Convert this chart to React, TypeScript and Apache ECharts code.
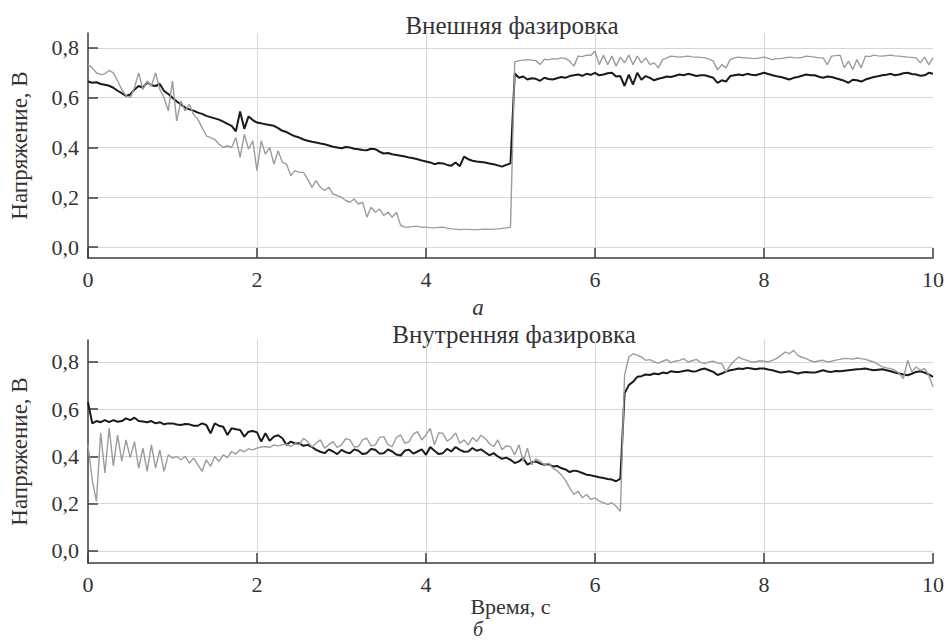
import React, { useEffect, useRef } from "react";
import * as echarts from "echarts";

// Sampling step of the recorded signals, seconds
const SAMPLE_STEP = 0.05;

const X_TICKS = [0, 2, 4, 6, 8, 10];
const Y_TICKS = [0, 0.2, 0.4, 0.6, 0.8];

const TITLE_TOP = "Внешняя фазировка";
const TITLE_BOTTOM = "Внутренняя фазировка";
const Y_NAME = "Напряжение, В";
const X_NAME = "Время, с";
const LABEL_TOP = "а";
const LABEL_BOTTOM = "б";

// (а) external phasing — black trace
const TOP_BLACK = [
  0.665, 0.660, 0.662, 0.655, 0.652, 0.648, 0.640, 0.628, 0.618, 0.607,
  0.613, 0.633, 0.647, 0.640, 0.662, 0.650, 0.647, 0.655, 0.627, 0.615,
  0.600, 0.585, 0.573, 0.560, 0.553, 0.548, 0.540, 0.535, 0.527, 0.522,
  0.517, 0.512, 0.504, 0.495, 0.487, 0.465, 0.545, 0.475, 0.525, 0.510,
  0.500, 0.497, 0.493, 0.490, 0.487, 0.478, 0.467, 0.462, 0.453, 0.445,
  0.440, 0.432, 0.427, 0.423, 0.420, 0.416, 0.413, 0.408, 0.403, 0.400,
  0.397, 0.402, 0.400, 0.395, 0.393, 0.390, 0.389, 0.395, 0.393, 0.383,
  0.376, 0.378, 0.373, 0.370, 0.367, 0.364, 0.360, 0.357, 0.353, 0.348,
  0.344, 0.340, 0.333, 0.338, 0.336, 0.330, 0.327, 0.340, 0.325, 0.363,
  0.353, 0.347, 0.344, 0.342, 0.340, 0.336, 0.333, 0.328, 0.323, 0.330,
  0.336, 0.697, 0.680, 0.685, 0.673, 0.678, 0.676, 0.668, 0.680, 0.675,
  0.673, 0.678, 0.683, 0.680, 0.687, 0.690, 0.693, 0.688, 0.696, 0.692,
  0.700, 0.690, 0.693, 0.698, 0.700, 0.685, 0.687, 0.647, 0.693, 0.653,
  0.700, 0.672, 0.687, 0.680, 0.670, 0.676, 0.680, 0.685, 0.683, 0.688,
  0.693, 0.690, 0.696, 0.692, 0.687, 0.690, 0.690, 0.685, 0.680, 0.660,
  0.670, 0.665, 0.687, 0.690, 0.693, 0.690, 0.696, 0.692, 0.690, 0.695,
  0.700, 0.695, 0.690, 0.686, 0.683, 0.678, 0.673, 0.680, 0.683, 0.688,
  0.693, 0.690, 0.690, 0.684, 0.680, 0.685, 0.683, 0.678, 0.673, 0.668,
  0.660, 0.672, 0.670, 0.665, 0.673, 0.678, 0.683, 0.686, 0.690, 0.692,
  0.696, 0.690, 0.693, 0.698, 0.700, 0.695, 0.693, 0.688, 0.690, 0.700,
  0.696,
];

// (а) external phasing — gray trace
const TOP_GRAY = [
  0.733, 0.720, 0.700, 0.693, 0.696, 0.710, 0.700, 0.667, 0.633, 0.607,
  0.600, 0.640, 0.700, 0.633, 0.667, 0.647, 0.700, 0.633, 0.600, 0.547,
  0.667, 0.507, 0.587, 0.547, 0.573, 0.533, 0.513, 0.480, 0.447, 0.440,
  0.433, 0.413, 0.400, 0.407, 0.400, 0.440, 0.360, 0.453, 0.393, 0.427,
  0.307, 0.427, 0.373, 0.400, 0.333, 0.387, 0.340, 0.333, 0.287, 0.307,
  0.300, 0.300, 0.273, 0.240, 0.267, 0.240, 0.227, 0.240, 0.213, 0.207,
  0.200, 0.187, 0.180, 0.193, 0.173, 0.180, 0.120, 0.160, 0.140, 0.153,
  0.127, 0.140, 0.120, 0.140, 0.087, 0.080, 0.080, 0.083, 0.083, 0.080,
  0.080, 0.078, 0.077, 0.079, 0.080, 0.076, 0.073, 0.072, 0.070, 0.071,
  0.071, 0.070, 0.070, 0.071, 0.072, 0.071, 0.072, 0.073, 0.075, 0.077,
  0.080, 0.744, 0.749, 0.751, 0.753, 0.751, 0.749, 0.733, 0.755, 0.752,
  0.757, 0.755, 0.760, 0.758, 0.747, 0.727, 0.767, 0.765, 0.771, 0.770,
  0.787, 0.733, 0.771, 0.733, 0.767, 0.727, 0.763, 0.740, 0.771, 0.733,
  0.767, 0.740, 0.760, 0.733, 0.740, 0.720, 0.753, 0.760, 0.767, 0.765,
  0.763, 0.765, 0.767, 0.764, 0.763, 0.762, 0.760, 0.755, 0.747, 0.712,
  0.733, 0.720, 0.753, 0.760, 0.763, 0.760, 0.760, 0.758, 0.757, 0.760,
  0.763, 0.758, 0.753, 0.757, 0.757, 0.760, 0.763, 0.761, 0.760, 0.762,
  0.767, 0.765, 0.763, 0.760, 0.760, 0.733, 0.767, 0.769, 0.771, 0.720,
  0.747, 0.713, 0.753, 0.720, 0.767, 0.765, 0.771, 0.768, 0.767, 0.769,
  0.771, 0.768, 0.767, 0.765, 0.763, 0.762, 0.760, 0.740, 0.763, 0.733,
  0.760,
];

// (б) internal phasing — black trace
const BOTTOM_BLACK = [
  0.630, 0.540, 0.550, 0.545, 0.554, 0.545, 0.554, 0.547, 0.550, 0.561,
  0.554, 0.564, 0.550, 0.548, 0.545, 0.550, 0.540, 0.545, 0.536, 0.540,
  0.540, 0.535, 0.533, 0.537, 0.536, 0.530, 0.530, 0.540, 0.533, 0.498,
  0.540, 0.530, 0.526, 0.491, 0.519, 0.515, 0.512, 0.484, 0.505, 0.508,
  0.502, 0.463, 0.498, 0.466, 0.484, 0.490, 0.477, 0.449, 0.463, 0.455,
  0.456, 0.445, 0.449, 0.440, 0.428, 0.420, 0.414, 0.430, 0.421, 0.410,
  0.428, 0.418, 0.414, 0.430, 0.424, 0.410, 0.414, 0.432, 0.428, 0.412,
  0.414, 0.430, 0.421, 0.408, 0.404, 0.425, 0.428, 0.412, 0.421, 0.430,
  0.407, 0.440, 0.424, 0.410, 0.414, 0.432, 0.421, 0.440, 0.428, 0.420,
  0.421, 0.436, 0.424, 0.430, 0.418, 0.405, 0.414, 0.400, 0.390, 0.395,
  0.386, 0.372, 0.379, 0.393, 0.365, 0.375, 0.379, 0.370, 0.365, 0.368,
  0.358, 0.360, 0.351, 0.345, 0.334, 0.340, 0.337, 0.330, 0.323, 0.320,
  0.316, 0.312, 0.309, 0.305, 0.302, 0.295, 0.306, 0.667, 0.702, 0.716,
  0.737, 0.740, 0.747, 0.745, 0.751, 0.748, 0.755, 0.752, 0.761, 0.758,
  0.758, 0.762, 0.765, 0.760, 0.761, 0.768, 0.772, 0.765, 0.758, 0.745,
  0.751, 0.760, 0.765, 0.768, 0.772, 0.770, 0.775, 0.772, 0.769, 0.772,
  0.772, 0.768, 0.765, 0.760, 0.755, 0.758, 0.761, 0.756, 0.751, 0.755,
  0.758, 0.755, 0.755, 0.760, 0.765, 0.760, 0.758, 0.762, 0.761, 0.763,
  0.765, 0.767, 0.769, 0.770, 0.772, 0.768, 0.765, 0.767, 0.769, 0.765,
  0.761, 0.755, 0.751, 0.747, 0.744, 0.750, 0.758, 0.761, 0.755, 0.747,
  0.737,
];

// (б) internal phasing — gray trace
const BOTTOM_GRAY = [
  0.450, 0.300, 0.210, 0.500, 0.330, 0.520, 0.360, 0.490, 0.380, 0.470,
  0.395, 0.463, 0.351, 0.435, 0.337, 0.449, 0.351, 0.428, 0.337, 0.407,
  0.393, 0.400, 0.386, 0.400, 0.372, 0.393, 0.365, 0.337, 0.386, 0.358,
  0.400, 0.379, 0.407, 0.395, 0.421, 0.410, 0.428, 0.420, 0.432, 0.428,
  0.435, 0.440, 0.442, 0.438, 0.449, 0.445, 0.449, 0.452, 0.442, 0.455,
  0.449, 0.477, 0.463, 0.440, 0.456, 0.470, 0.435, 0.450, 0.463, 0.438,
  0.449, 0.475, 0.470, 0.440, 0.442, 0.470, 0.477, 0.445, 0.449, 0.480,
  0.484, 0.450, 0.442, 0.480, 0.491, 0.455, 0.463, 0.495, 0.505, 0.470,
  0.491, 0.519, 0.449, 0.500, 0.498, 0.465, 0.477, 0.500, 0.456, 0.470,
  0.449, 0.480, 0.463, 0.490, 0.477, 0.455, 0.442, 0.470, 0.428, 0.445,
  0.442, 0.407, 0.449, 0.379, 0.435, 0.365, 0.390, 0.379, 0.365, 0.372,
  0.351, 0.340, 0.323, 0.300, 0.267, 0.239, 0.253, 0.225, 0.239, 0.218,
  0.225, 0.211, 0.204, 0.197, 0.204, 0.189, 0.168, 0.744, 0.821, 0.835,
  0.828, 0.821, 0.807, 0.810, 0.800, 0.795, 0.803, 0.810, 0.797, 0.803,
  0.807, 0.814, 0.800, 0.805, 0.811, 0.798, 0.793, 0.800, 0.803, 0.795,
  0.793, 0.758, 0.786, 0.805, 0.821, 0.812, 0.807, 0.800, 0.800, 0.805,
  0.803, 0.800, 0.807, 0.815, 0.828, 0.842, 0.835, 0.849, 0.828, 0.820,
  0.814, 0.805, 0.800, 0.805, 0.807, 0.800, 0.803, 0.808, 0.811, 0.815,
  0.814, 0.812, 0.817, 0.814, 0.811, 0.805, 0.800, 0.790, 0.779, 0.775,
  0.772, 0.765, 0.751, 0.730, 0.807, 0.758, 0.779, 0.765, 0.772, 0.744,
  0.695,
];

const FONT = "Liberation Serif, DejaVu Serif, serif";
const TEXT_COLOR = "#333333";
const AXIS_COLOR = "#3c3c3c";
const GRID_COLOR = "#d6d6d6";
const BLACK = "#1a1a1a";
const GRAY = "#9c9c9c";

const toPairs = (vals: number[]) =>
  vals.map((v, i) => [Number((i * SAMPLE_STEP).toFixed(2)), v]);

const fmtY = (v: number) => v.toFixed(1).replace(".", ",");

export default function App() {
  const ref = useRef<HTMLDivElement | null>(null);

  useEffect(() => {
    if (!ref.current) return;
    const chart = echarts.init(ref.current, undefined, { renderer: "svg" });

    const yRanges = [
      { min: -0.044, max: 0.86 },
      { min: -0.051, max: 0.893 },
    ];

    const option: any = {
      animation: false,
      backgroundColor: "#ffffff",
      grid: [
        { left: 88, top: 33, width: 845, height: 225 },
        { left: 88, top: 340, width: 845, height: 223 },
      ],
      xAxis: [0, 1].map((i) => ({
        type: "value",
        gridIndex: i,
        min: X_TICKS[0],
        max: X_TICKS[X_TICKS.length - 1],
        interval: 2,
        axisLine: { show: true, onZero: false, lineStyle: { color: AXIS_COLOR, width: 1.5 } },
        axisTick: { show: true, inside: true, length: 10, lineStyle: { color: AXIS_COLOR, width: 1.5 } },
        axisLabel: { color: TEXT_COLOR, fontFamily: FONT, fontSize: 22, margin: 10 },
        splitLine: { show: true, showMinLine: false, showMaxLine: false, lineStyle: { color: GRID_COLOR, width: 1 } },
        name: i === 1 ? X_NAME : "",
        nameLocation: "middle",
        nameGap: 28,
        nameTextStyle: { color: TEXT_COLOR, fontFamily: FONT, fontSize: 22 },
      })),
      yAxis: yRanges.map((r, i) => ({
        type: "value",
        gridIndex: i,
        min: r.min,
        max: r.max,
        axisLine: { show: true, onZero: false, lineStyle: { color: AXIS_COLOR, width: 1.5 } },
        axisTick: { show: true, inside: true, length: 10, customValues: Y_TICKS, lineStyle: { color: AXIS_COLOR, width: 1.5 } },
        axisLabel: { customValues: Y_TICKS, formatter: fmtY, color: TEXT_COLOR, fontFamily: FONT, fontSize: 22, margin: 9 },
        splitLine: { show: true, lineStyle: { color: GRID_COLOR, width: 1 } },
        name: Y_NAME,
        nameLocation: "middle",
        nameGap: 57,
        nameTextStyle: { color: TEXT_COLOR, fontFamily: FONT, fontSize: 23 },
      })),
      graphic: [
        { type: "text", x: 512, y: 25, style: { text: TITLE_TOP, fontFamily: FONT, fontSize: 25, fill: TEXT_COLOR, textAlign: "center", textVerticalAlign: "middle" } },
        { type: "text", x: 514, y: 334, style: { text: TITLE_BOTTOM, fontFamily: FONT, fontSize: 25, fill: TEXT_COLOR, textAlign: "center", textVerticalAlign: "middle" } },
        { type: "text", x: 478, y: 307, style: { text: LABEL_TOP, fontFamily: FONT, fontStyle: "italic", fontSize: 23, fill: TEXT_COLOR, textAlign: "center", textVerticalAlign: "middle" } },
        { type: "text", x: 478, y: 629, style: { text: LABEL_BOTTOM, fontFamily: FONT, fontStyle: "italic", fontSize: 20, fill: TEXT_COLOR, textAlign: "center", textVerticalAlign: "middle" } },
      ],
      series: [
        { type: "line", xAxisIndex: 0, yAxisIndex: 0, data: toPairs(TOP_BLACK), symbol: "none", lineStyle: { color: BLACK, width: 2 } },
        { type: "line", xAxisIndex: 0, yAxisIndex: 0, data: toPairs(TOP_GRAY), symbol: "none", lineStyle: { color: GRAY, width: 1.4 } },
        { type: "line", xAxisIndex: 1, yAxisIndex: 1, data: toPairs(BOTTOM_BLACK), symbol: "none", lineStyle: { color: BLACK, width: 2 } },
        { type: "line", xAxisIndex: 1, yAxisIndex: 1, data: toPairs(BOTTOM_GRAY), symbol: "none", lineStyle: { color: GRAY, width: 1.4 } },
      ],
    };

    chart.setOption(option);
    return () => chart.dispose();
  }, []);

  return (
    <div
      ref={ref}
      style={{ position: "fixed", left: 0, top: 0, width: 947, height: 641, background: "#fff" }}
    />
  );
}
